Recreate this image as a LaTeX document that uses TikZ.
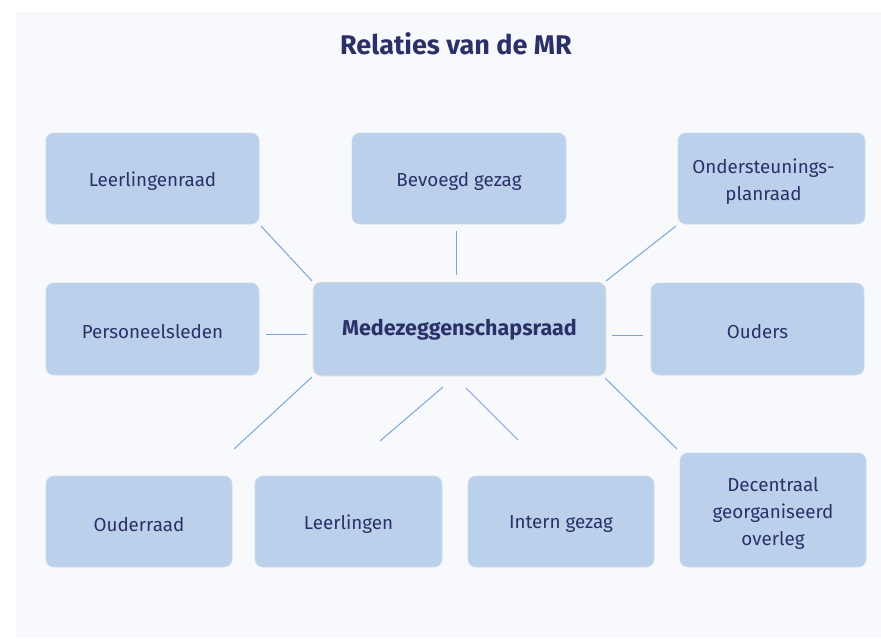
\documentclass[tikz,border=0pt]{standalone}
\usepackage{fontspec}
\setmainfont{Fira Sans}
\definecolor{panelbg}{HTML}{F7F9FD}
\definecolor{boxfill}{HTML}{BBD0EA}
\definecolor{boxedge}{HTML}{C9DAEE}
\definecolor{txt}{HTML}{2B3068}
\definecolor{linkc}{HTML}{7DA4D8}
\definecolor{mredge}{HTML}{EFE9DD}
\begin{document}
\begin{tikzpicture}[x=1pt,y=-1pt,
  box/.style={draw=boxedge,line width=0.8pt,fill=boxfill,rounded corners=8pt},
  lbl/.style={text=txt,align=center,font=\fontsize{18.8}{27}\selectfont},
  link/.style={draw=linkc,line width=1pt}]
\useasboundingbox (0,0) rectangle (881,638);
\fill[white] (0,0) rectangle (881,638);
\fill[panelbg] (16,12) rectangle (881,638);
\node[text=txt,font=\fontsize{27}{30}\selectfont\bfseries] (title) at (456,44) {Relaties van de MR};
% boxes: corner-based
\newcommand{\bx}[7]{\path[box] (#2,#3) rectangle (#4,#5);
  \node[lbl] (#1) at ({(#2+#4)/2+#7},{(#3+#5)/2+3}) {#6};}
\bx{lr}{46}{133}{259}{224}{Leerlingenraad}{0}
\bx{bg}{352}{133}{566}{224}{Bevoegd gezag}{0}
\bx{opr}{678}{133}{865}{224}{Ondersteunings-\\planraad}{-8}
\bx{pl}{46}{283}{259}{375}{Personeelsleden}{0}
\bx{ou}{651}{283}{864}{375}{Ouders}{0}
\bx{or}{46}{476}{232}{567}{Ouderraad}{0}
\bx{ll}{255}{476}{442}{567}{Leerlingen}{0}
\bx{ig}{468}{476}{654}{567}{Intern gezag}{0}
\bx{dgo}{680}{453}{866}{567}{Decentraal\\georganiseerd\\overleg}{0}
\path[box,draw=mredge] (313,282) rectangle (606,376);
\node[text=txt,font=\fontsize{21.5}{24}\selectfont\bfseries] (mr) at (459.5,330) {Medezeggenschapsraad};
% connector end points
\coordinate (a1) at (261,226); \coordinate (a2) at (312,281);
\coordinate (b1) at (456,231); \coordinate (b2) at (456,275);
\coordinate (c1) at (676,226); \coordinate (c2) at (606,281);
\coordinate (d1) at (266,334); \coordinate (d2) at (307,334);
\coordinate (e1) at (612,335); \coordinate (e2) at (643,335);
\coordinate (f1) at (312,377); \coordinate (f2) at (234,449);
\coordinate (g1) at (443,387); \coordinate (g2) at (380,441);
\coordinate (h1) at (466,388); \coordinate (h2) at (518,440);
\coordinate (i1) at (605,378); \coordinate (i2) at (677,449);
\foreach \p/\q in {a1/a2,b1/b2,c1/c2,d1/d2,e1/e2,f1/f2,g1/g2,h1/h2,i1/i2}
  \draw[link] (\p) -- (\q);
\end{tikzpicture}
\end{document}
